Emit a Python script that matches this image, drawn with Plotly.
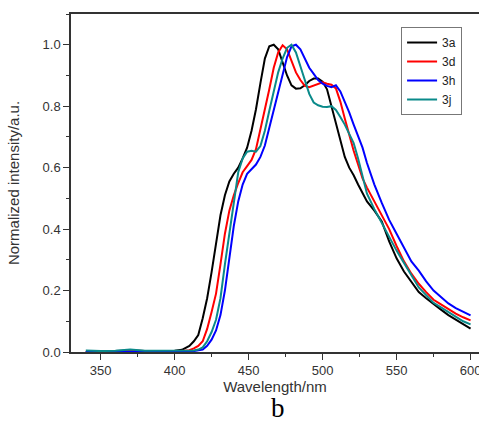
import plotly.graph_objects as go

wavelength = [340, 350, 360, 370, 380, 390, 400, 405, 410, 413, 416, 419, 422, 425, 428, 431,
              434, 437, 440, 443, 446, 449, 452, 455, 458, 461, 464, 467, 470, 473, 476, 479,
              482, 485, 488, 491, 494, 497, 500, 503, 506, 509, 512, 515, 518, 521, 524, 527,
              530, 535, 540, 545, 550, 555, 560, 565, 570, 575, 580, 585, 590, 595, 600]

s3a = [0.000, 0.002, 0.002, 0.005, 0.003, 0.003, 0.004, 0.007, 0.020, 0.035, 0.055, 0.110, 0.175, 0.260, 0.350, 0.445,
       0.510, 0.555, 0.580, 0.600, 0.630, 0.665, 0.720, 0.790, 0.875, 0.955, 0.995, 1.000, 0.985, 0.945, 0.900, 0.868,
       0.857, 0.858, 0.868, 0.882, 0.890, 0.890, 0.880, 0.855, 0.800, 0.740, 0.685, 0.635, 0.600, 0.575, 0.545, 0.515,
       0.490, 0.460, 0.425, 0.360, 0.305, 0.262, 0.230, 0.195, 0.175, 0.155, 0.138, 0.120, 0.105, 0.090, 0.076]

s3d = [0.000, 0.002, 0.002, 0.004, 0.003, 0.002, 0.002, 0.003, 0.006, 0.012, 0.020, 0.035, 0.075, 0.130, 0.190, 0.285,
       0.385, 0.460, 0.510, 0.550, 0.585, 0.605, 0.625, 0.660, 0.720, 0.790, 0.855, 0.925, 0.975, 0.998, 0.985, 0.945,
       0.910, 0.885, 0.866, 0.862, 0.867, 0.874, 0.878, 0.873, 0.870, 0.858, 0.815, 0.760, 0.705, 0.655, 0.610, 0.565,
       0.535, 0.490, 0.445, 0.400, 0.345, 0.295, 0.255, 0.222, 0.195, 0.170, 0.155, 0.140, 0.125, 0.113, 0.103]

s3h = [0.000, 0.000, 0.000, 0.001, 0.000, 0.000, 0.000, 0.000, 0.002, 0.003, 0.005, 0.008, 0.020, 0.040, 0.070, 0.120,
       0.200, 0.305, 0.410, 0.490, 0.545, 0.580, 0.595, 0.610, 0.635, 0.672, 0.730, 0.790, 0.846, 0.905, 0.960, 0.995,
       1.000, 0.985, 0.955, 0.925, 0.905, 0.885, 0.873, 0.866, 0.862, 0.868, 0.848, 0.815, 0.780, 0.740, 0.705, 0.665,
       0.615, 0.545, 0.485, 0.430, 0.385, 0.340, 0.295, 0.265, 0.230, 0.200, 0.180, 0.158, 0.143, 0.130, 0.119]

s3j = [0.005, 0.003, 0.004, 0.008, 0.004, 0.004, 0.003, 0.003, 0.004, 0.005, 0.008, 0.015, 0.035, 0.065, 0.105, 0.175,
       0.285, 0.385, 0.490, 0.585, 0.630, 0.652, 0.655, 0.652, 0.670, 0.720, 0.785, 0.850, 0.910, 0.955, 0.990, 1.000,
       0.975, 0.930, 0.885, 0.840, 0.812, 0.803, 0.798, 0.797, 0.800, 0.788, 0.765, 0.740, 0.710, 0.680, 0.630, 0.575,
       0.515, 0.465, 0.420, 0.370, 0.330, 0.290, 0.250, 0.210, 0.185, 0.160, 0.145, 0.130, 0.113, 0.100, 0.090]

series_names = ["3a", "3d", "3h", "3j"]
series_values = [s3a, s3d, s3h, s3j]
series_colors = ["#000000", "#ff0000", "#0000ff", "#0a8a8a"]

x_ticks = [350, 400, 450, 500, 550, 600]
y_ticks = [0.0, 0.2, 0.4, 0.6, 0.8, 1.0]
y_ticktext = ["0.0", "0.2", "0.4", "0.6", "0.8", "1.0"]

fig = go.Figure()
for name, vals, col in zip(series_names, series_values, series_colors):
    fig.add_trace(go.Scatter(x=wavelength, y=vals, mode="lines", name=name,
                             line=dict(color=col, width=2)))

axis_common = dict(showline=True, linecolor="#333333", linewidth=1.5, ticks="outside",
                   ticklen=6, tickwidth=1.2, tickcolor="#333333", showgrid=False, zeroline=False,
                   automargin=False,
                   tickfont=dict(family="Liberation Sans, Arial", size=13, color="#333333"))

fig.update_xaxes(range=[330, 605.7], tickvals=x_ticks, mirror=True, ticklabeloverflow="allow",
                 minor=dict(ticks="outside", ticklen=3, tickcolor="#333333", dtick=25, tick0=325, showgrid=False),
                 title=dict(text="Wavelength/nm", standoff=4,
                            font=dict(family="Liberation Sans, Arial", size=15, color="#333333")),
                 **axis_common)
fig.update_yaxes(range=[0, 1.1], tickvals=y_ticks, ticktext=y_ticktext,
                 mirror=False,
                 minor=dict(ticks="outside", ticklen=3, tickcolor="#333333", dtick=0.1, tick0=0, showgrid=False),
                 title=dict(text="Normalized intensity/a.u.", standoff=19,
                            font=dict(family="Liberation Sans, Arial", size=15, color="#333333")),
                 **axis_common)

fig.update_layout(
    width=479, height=425,
    margin=dict(l=71, r=0, t=14, b=73, autoexpand=False),
    paper_bgcolor="white", plot_bgcolor="white",
    showlegend=True,
    legend=dict(x=0.809, y=0.9615, xanchor="left", yanchor="top",
                bgcolor="white", bordercolor="#777777", borderwidth=1,
                font=dict(family="Liberation Sans, Arial", size=12, color="#222222"),
                tracegroupgap=0, itemwidth=30),
    annotations=[dict(text="b", xref="paper", yref="paper", x=(278 - 71) / 408, y=(352 - 425) / 338,
                      xanchor="center", yanchor="bottom", showarrow=False,
                      font=dict(family="Liberation Serif, Times New Roman", size=27, color="#000000"))],
)

fig.write_html("out.html", config={"displayModeBar": False},
               post_script="document.body.style.margin='0px';")
